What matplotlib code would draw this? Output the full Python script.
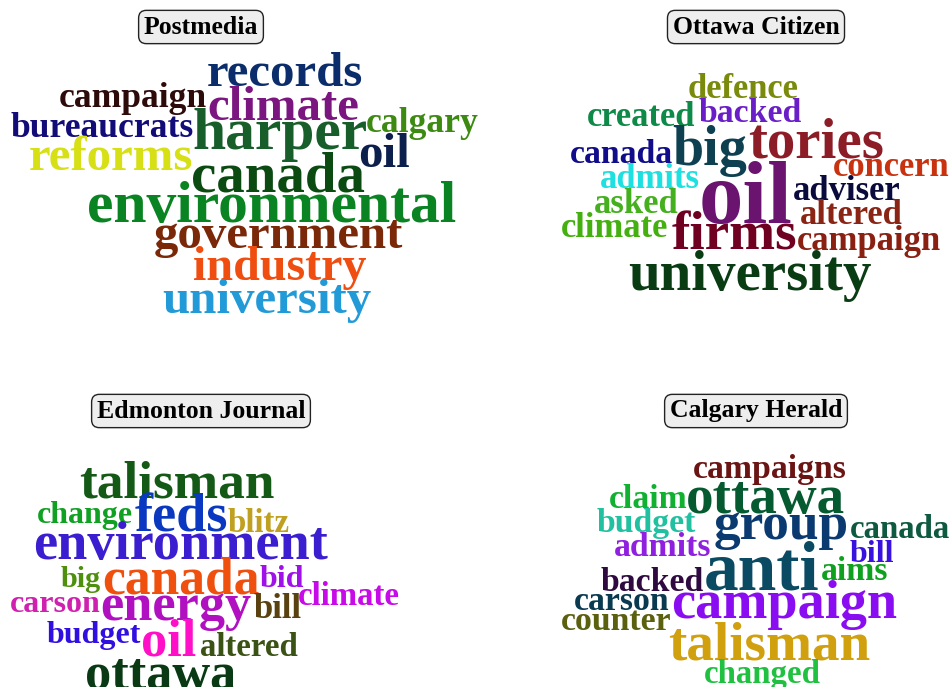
import matplotlib.pyplot as plt

plt.rcParams['font.family'] = ['Liberation Serif', 'DejaVu Serif']

W, H = 953, 687
SIZE = 0.64  # points of font per unit of word weight

# ---- Postmedia ----
pm_words = ['records', 'campaign', 'climate', 'bureaucrats', 'harper', 'calgary', 'oil',
            'reforms', 'canada', 'environmental', 'government', 'industry', 'university']
pm_weight = [55, 40, 55, 40, 67, 40, 55, 55, 64, 67, 55, 54, 55]
pm_x = [285, 133, 283, 102, 280, 422, 384, 111, 278, 272, 278, 280, 267]
pm_y = [86, 107, 120, 137, 149, 132, 167, 170, 191, 222, 248, 280, 313]
pm_colors = ['#0b2d6b', '#2e0b0b', '#7b157f', '#120c78', '#175e2a', '#3c8a12', '#0c1f4d',
             '#d6e014', '#0b4b12', '#0a8422', '#7a2808', '#f04e10', '#229ad8']

# ---- Ottawa Citizen ----
oc_words = ['defence', 'created', 'backed', 'big', 'tories', 'canada', 'concern', 'admits',
            'oil', 'adviser', 'asked', 'altered', 'climate', 'firms', 'campaign', 'university']
oc_weight = [39, 39, 38, 63, 64, 38, 39, 39, 100, 39, 39, 39, 39, 62, 39, 64]
oc_x = [743, 641, 750, 710, 816, 621, 891, 650, 746, 847, 636, 851, 615, 734, 869, 750]
oc_y = [98, 126, 122, 165, 157, 163, 176, 188, 223, 200, 213, 224, 237, 250, 250, 290]
oc_colors = ['#7a8a0a', '#0e8a48', '#6a1ec8', '#0d4050', '#8c1c26', '#100c8a', '#c8320e',
             '#1ee0e0', '#6a1470', '#0a0a3c', '#44b01e', '#8a2414', '#44b010', '#700022',
             '#8a2012', '#0a3c14']

# ---- Edmonton Journal ----
ej_words = ['talisman', 'change', 'feds', 'blitz', 'environment', 'big', 'canada', 'bid',
            'climate', 'carson', 'energy', 'bill', 'budget', 'oil', 'altered', 'ottawa']
ej_weight = [60, 36, 61, 37, 61, 34, 58, 36, 37, 36, 59, 39, 36, 59, 37, 59]
ej_x = [177, 85, 181, 259, 181, 81, 181, 282, 349, 55, 176, 278, 94, 169, 249, 161]
ej_y = [497, 523, 532, 532, 559, 587, 594, 587, 605, 612, 620, 618, 643, 655, 656, 689]
ej_colors = ['#145a16', '#10a022', '#0a38c0', '#c0a020', '#3a1ed0', '#4e900e', '#f0500e',
             '#a010e8', '#c80ae8', '#d020b0', '#b010c0', '#5a4210', '#3010e0', '#ff10c8',
             '#3a5214', '#0a3a14']

# ---- Calgary Herald ----
ch_words = ['campaigns', 'claim', 'ottawa', 'budget', 'group', 'canada', 'admits', 'bill',
            'anti', 'aims', 'backed', 'carson', 'campaign', 'counter', 'talisman', 'changed']
ch_weight = [38, 38, 62, 38, 60, 37, 38, 36, 78, 38, 38, 38, 61, 38, 62, 37]
ch_x = [770, 648, 765, 646, 781, 900, 663, 872, 762, 855, 652, 622, 784, 616, 769, 762]
ch_y = [478, 508, 513, 532, 539, 538, 556, 562, 590, 580, 591, 610, 618, 630, 659, 683]
ch_colors = ['#6a1414', '#10b030', '#065a30', '#20c0a0', '#0a3a70', '#0e5a40', '#9020e0',
             '#3a12e0', '#0a4a62', '#10a020', '#2e0a40', '#0a3a50', '#8a0cf0', '#5a600e',
             '#d0a00e', '#20c040']

titles = ['Postmedia', 'Ottawa Citizen', 'Edmonton Journal', 'Calgary Herald']
title_x = [201, 756, 201, 756]
title_y = [27, 27, 411, 411]


def draw_cloud(ax, words, weights, xs, ys, colors):
    for w, s, x, y, c in zip(words, weights, xs, ys, colors):
        ax.text(x, y, w, fontsize=s * SIZE, fontweight='bold', color=c,
                ha='center', va='baseline')


fig = plt.figure(figsize=(W / 100, H / 100), dpi=100)
ax = fig.add_axes([0, 0, 1, 1])
ax.set_xlim(0, W)
ax.set_ylim(H, 0)
ax.axis('off')

draw_cloud(ax, pm_words, pm_weight, pm_x, pm_y, pm_colors)
draw_cloud(ax, oc_words, oc_weight, oc_x, oc_y, oc_colors)
draw_cloud(ax, ej_words, ej_weight, ej_x, ej_y, ej_colors)
draw_cloud(ax, ch_words, ch_weight, ch_x, ch_y, ch_colors)

for t, x, y in zip(titles, title_x, title_y):
    ax.text(x, y, t, fontsize=18.5, fontweight='bold', color='black', ha='center', va='center',
            bbox=dict(boxstyle='round,pad=0.2,rounding_size=0.3', facecolor='#eeeeee',
                      edgecolor='#222222', linewidth=1))

fig.savefig('out.png', dpi=100)
